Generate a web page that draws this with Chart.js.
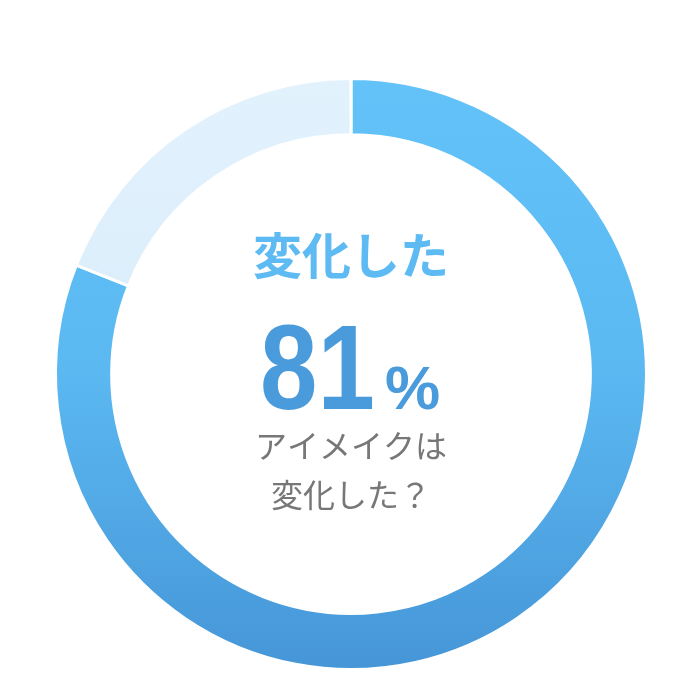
<!DOCTYPE html>
<html>
<head>
<meta charset="utf-8">
<script src="https://cdn.jsdelivr.net/npm/chart.js@4"></script>
<style>
html,body{margin:0;padding:0;background:#fff;}
#wrap{width:696px;height:696px;}
</style>
</head>
<body>
<div id="wrap"><canvas id="c" width="696" height="696"></canvas></div>
<script>
const categories = ['変化した', '変化していない'];
const values = [81, 19];
const titleText = '変化した';
const percentText = '81';
const subLines = ['アイメイクは', '変化した？'];

const gradientStops = [
  [[0, '#63c3f9'], [0.5, '#5bb8f1'], [1, '#4696d7']],
  [[0, '#e2f2fd'], [1, '#d3e7f8']]
];

function segColor(ctx) {
  const stops = gradientStops[ctx.dataIndex] || gradientStops[0];
  const ca = ctx.chart.chartArea;
  if (!ca) return stops[0][1];
  const g = ctx.chart.ctx.createLinearGradient(0, ca.top, 0, ca.bottom);
  stops.forEach(s => g.addColorStop(s[0], s[1]));
  return g;
}

const centerText = {
  id: 'centerText',
  afterDraw(chart) {
    const arc = chart.getDatasetMeta(0).data[0];
    const cx = arc.x, cy = arc.y;
    const c = chart.ctx;
    c.save();
    c.textAlign = 'center';
    c.textBaseline = 'middle';
    c.fillStyle = '#5dbaf3';
    c.font = 'bold 49px "Noto Sans CJK JP"';
    c.fillText(titleText, cx, cy - 119);
    // 81 %
    c.fillStyle = '#4a9bdb';
    c.textAlign = 'left';
    c.textBaseline = 'alphabetic';
    c.save();
    c.translate(cx - 91, cy + 35);
    c.scale(0.86, 1);
    c.font = 'bold 120px "Liberation Sans"';
    c.fillText(percentText, 0, 0);
    c.restore();
    c.font = 'bold 62px "Liberation Sans"';
    c.fillText('%', cx + 34, cy + 35);
    // sub lines
    c.textAlign = 'center';
    c.textBaseline = 'middle';
    c.fillStyle = '#777777';
    c.font = '32px "Noto Sans CJK JP"';
    c.fillText(subLines[0], cx, cy + 72);
    c.fillText(subLines[1], cx, cy + 121);
    c.restore();
  }
};

new Chart(document.getElementById('c'), {
  type: 'doughnut',
  data: {
    labels: categories,
    datasets: [{
      data: values,
      backgroundColor: segColor,
      borderColor: '#ffffff',
      borderWidth: 3,
      hoverOffset: 0
    }]
  },
  options: {
    responsive: false,
    animation: false,
    cutout: '81%',
    layout: { padding: { top: 77, bottom: 25, left: 54, right: 48 } },
    plugins: { legend: { display: false }, tooltip: { enabled: false } }
  },
  plugins: [centerText]
});
</script>
</body>
</html>
